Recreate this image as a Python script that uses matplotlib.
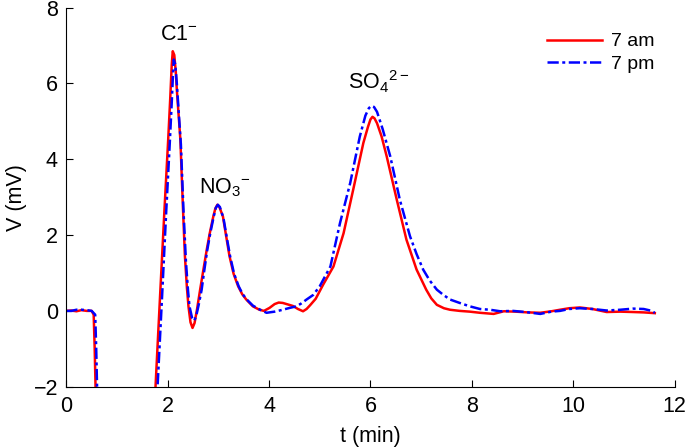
import matplotlib
matplotlib.use("Agg")
import matplotlib.pyplot as plt

#### data ####
# 7 am run (red, solid)
t_am = [0.0, 0.1, 0.2, 0.3, 0.4, 0.5, 0.54, 0.56, 0.58, 0.62, 1.70, 1.76, 1.85,
        1.94, 2.01, 2.05, 2.08, 2.10, 2.13, 2.16, 2.18, 2.25, 2.30, 2.34, 2.38,
        2.41, 2.45, 2.49, 2.53, 2.58, 2.64, 2.70, 2.77, 2.83, 2.90, 2.94, 2.98,
        3.02, 3.09, 3.15, 3.22, 3.30, 3.39, 3.47, 3.55, 3.68, 3.81, 3.90, 4.01,
        4.11, 4.19, 4.27, 4.37, 4.47, 4.57, 4.67, 4.74, 4.81, 4.92, 5.07, 5.27,
        5.47, 5.66, 5.86, 5.95, 6.00, 6.04, 6.08, 6.13, 6.22, 6.32, 6.52, 6.71,
        6.91, 7.10, 7.20, 7.31, 7.45, 7.57, 7.76, 7.96, 8.16, 8.43, 8.63, 8.86,
        9.11, 9.35, 9.57, 9.74, 9.92, 10.13, 10.38, 10.66, 10.93, 11.18, 11.39,
        11.61]
v_am = [0.0, 0.01, -0.01, 0.02, 0.0, 0.0, -0.1, -1.0, -2.2, -4.0, -4.0, -2.0, 0.4,
        2.76, 4.52, 5.6, 6.5, 6.85, 6.75, 6.3, 5.84, 4.52, 2.76, 1.44, 0.6,
        0.12, -0.3, -0.45, -0.32, 0.05, 0.56, 1.05, 1.61, 2.05, 2.49, 2.70, 2.80,
        2.74, 2.49, 2.0, 1.44, 0.98, 0.65, 0.44, 0.30, 0.12, 0.03, 0.0, 0.08,
        0.18, 0.22, 0.21, 0.17, 0.13, 0.05, -0.01, 0.05, 0.15, 0.32, 0.70, 1.17,
        2.05, 3.20, 4.43, 4.85, 5.05, 5.12, 5.08, 4.95, 4.6, 4.08, 2.93, 1.88,
        1.09, 0.56, 0.33, 0.16, 0.07, 0.03, 0.0, -0.02, -0.05, -0.08, -0.01, -0.02,
        -0.04, -0.05, -0.01, 0.03, 0.07, 0.09, 0.05, -0.03, -0.02, -0.03, -0.04,
        -0.06]

# 7 pm run (blue, dash-dot)
t_pm = [0.0, 0.1, 0.2, 0.3, 0.4, 0.5, 0.57, 0.59, 0.61, 0.65, 1.74, 1.80, 1.89,
        1.97, 2.04, 2.08, 2.11, 2.12, 2.15, 2.18, 2.20, 2.26, 2.31, 2.36, 2.40,
        2.43, 2.48, 2.52, 2.56, 2.61, 2.67, 2.72, 2.78, 2.84, 2.91, 2.95, 2.99,
        3.03, 3.10, 3.16, 3.23, 3.31, 3.40, 3.48, 3.56, 3.68, 3.81, 3.95, 4.11,
        4.27, 4.41, 4.54, 4.64, 4.74, 4.87, 5.00, 5.10, 5.21, 5.40, 5.60, 5.79,
        5.90, 5.97, 6.02, 6.07, 6.13, 6.24, 6.39, 6.58, 6.78, 6.91, 7.04, 7.17,
        7.31, 7.44, 7.57, 7.76, 7.96, 8.16, 8.36, 8.56, 8.81, 9.06, 9.35, 9.57,
        9.74, 9.92, 10.13, 10.38, 10.66, 10.93, 11.18, 11.39, 11.52, 11.61]
v_pm = [0.0, 0.0, 0.03, 0.03, 0.02, 0.0, -0.1, -1.0, -2.2, -4.0, -4.0, -2.0, 0.4,
        2.6, 4.4, 5.5, 6.4, 6.63, 6.5, 6.0, 5.6, 4.4, 2.7, 1.3, 0.55,
        0.12, -0.18, -0.26, -0.15, 0.15, 0.56, 1.05, 1.6, 2.05, 2.5, 2.72, 2.80,
        2.74, 2.45, 1.98, 1.45, 0.98, 0.65, 0.44, 0.30, 0.14, 0.04, -0.05, -0.02,
        0.03, 0.08, 0.12, 0.2, 0.30, 0.42, 0.65, 0.9, 1.17, 2.32, 3.37, 4.6,
        5.15, 5.35, 5.41, 5.38, 5.25, 4.8, 4.08, 2.93, 1.97, 1.5, 1.09, 0.8,
        0.56, 0.42, 0.30, 0.21, 0.12, 0.05, 0.03, -0.01, 0.0, -0.03, -0.08, -0.02,
        0.0, 0.05, 0.07, 0.05, 0.01, 0.03, 0.06, 0.05, 0.01, -0.05]

# peak labels (baseline positions)
peak_labels = [r'C1$^{-}$', r'NO$_3$$^{-}$', r'SO$_4$$^{2-}$']
peak_pos = [(2.23, 7.15), (3.12, 3.10), (6.16, 5.83)]

#### plot ####
plt.rcParams['font.family'] = ['Liberation Sans', 'DejaVu Sans']
plt.rcParams['mathtext.fontset'] = 'custom'
plt.rcParams['mathtext.rm'] = 'Liberation Sans'
plt.rcParams['mathtext.it'] = 'Liberation Sans'
plt.rcParams['mathtext.default'] = 'rm'

fig = plt.figure(figsize=(6.85, 4.47), dpi=100)
ax = fig.add_axes([0.0968, 0.1349, 0.888, 0.848])

ax.plot(t_am, v_am, color='#ff0000', lw=1.8, label='7 am')
ax.plot(t_pm, v_pm, color='#0000ff', lw=1.8, linestyle=(0, (4.5, 1.4, 1.2, 1.4)),
        label='7 pm')

for lab, (x, y) in zip(peak_labels, peak_pos):
    ax.text(x, y, lab, fontsize=15.5, ha='center', va='baseline')

ax.set_xlim(0, 12)
ax.set_ylim(-2, 8)
ax.set_xticks(range(0, 13, 2))
ax.set_yticks(range(-2, 9, 2))
ax.tick_params(direction='in', length=5, labelsize=15.5)
ax.tick_params(axis='x', pad=7)
ax.tick_params(axis='y', pad=6)
ax.spines['top'].set_visible(False)
ax.spines['right'].set_visible(False)
ax.set_xlabel('t (min)', fontsize=15.5, labelpad=6)
ax.set_ylabel('V (mV)', fontsize=15.5, labelpad=5)

ax.legend(loc='upper right', frameon=False, fontsize=14, handlelength=2.8,
          handletextpad=0.45, bbox_to_anchor=(0.995, 0.98), labelspacing=0.25)

fig.savefig('out.png', dpi=100)
